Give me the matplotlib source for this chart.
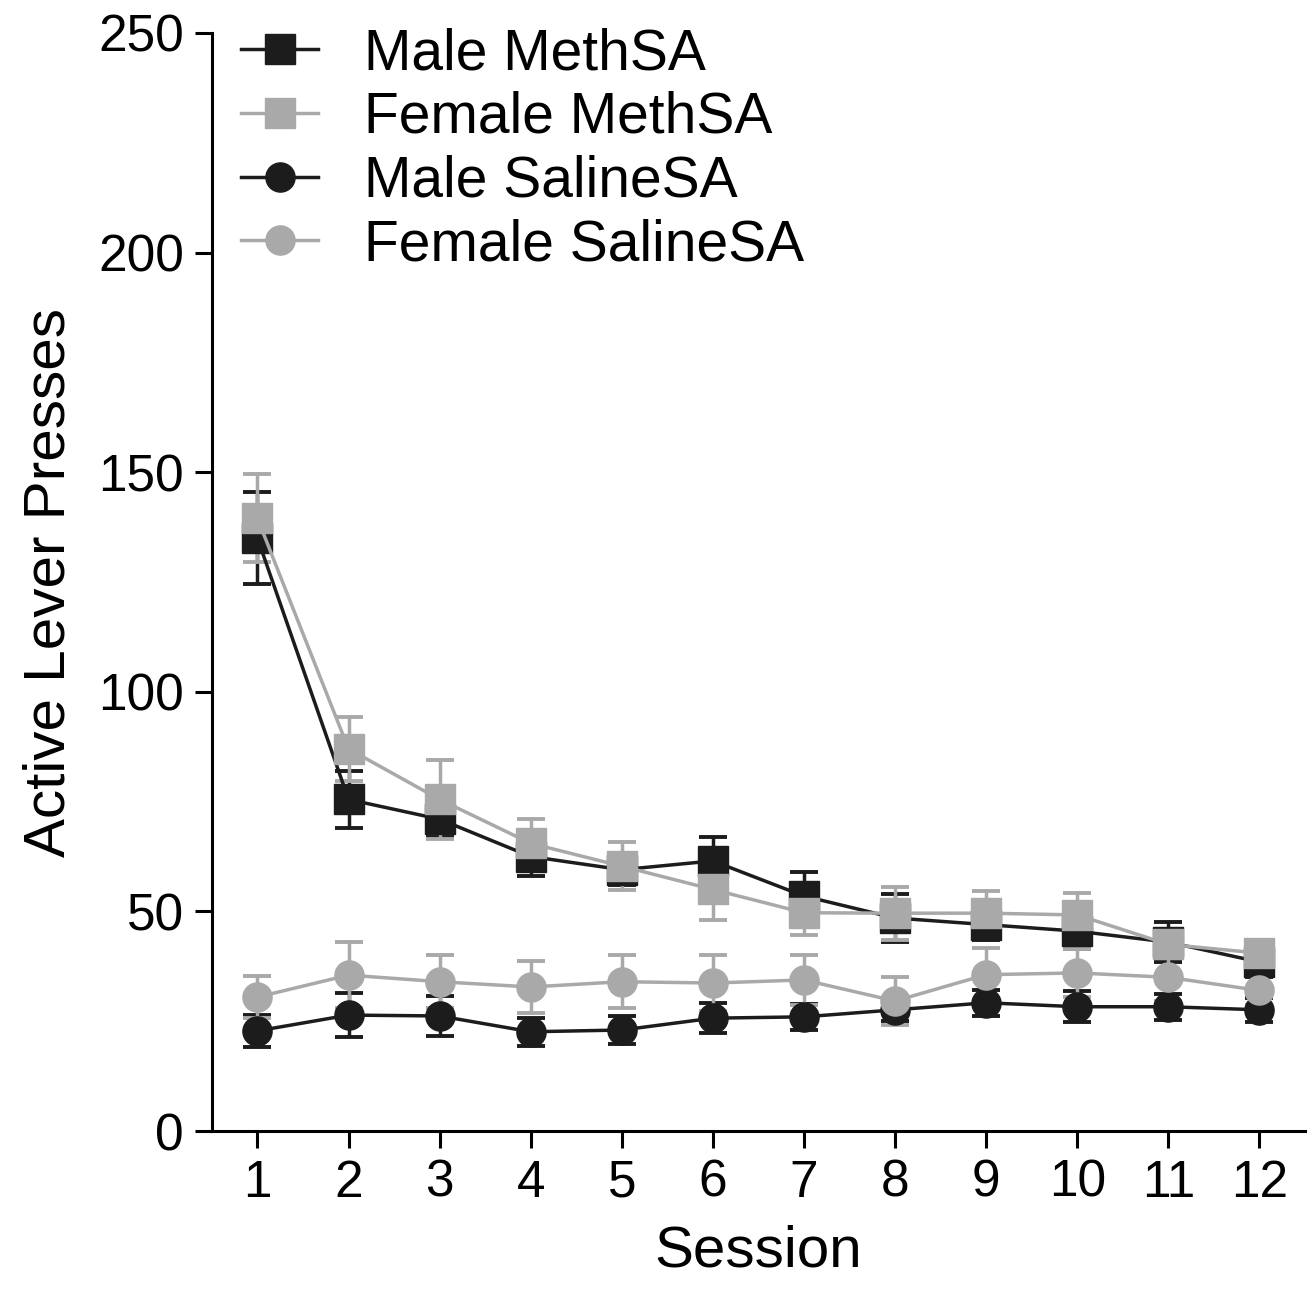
import matplotlib
matplotlib.use('Agg')
import matplotlib.pyplot as plt
import numpy as np

plt.rcParams['font.family'] = ['Liberation Sans', 'DejaVu Sans']

sessions = np.arange(1, 13)

male_meth = [135, 75.5, 71, 62.5, 59.5, 61.5, 53.5, 48.5, 47, 45.5, 43, 38.5]
male_meth_sem = [10.5, 6.5, 4, 4.5, 3.5, 5.5, 5.5, 5.5, 3.5, 4, 4.5, 3.5]
female_meth = [139.5, 87, 75.5, 65.5, 60.3, 55, 49.7, 49.6, 49.6, 49.2, 42.5, 40.5]
female_meth_sem = [10, 7.3, 9, 5.5, 5.5, 7, 5, 6, 5, 5, 3, 2.5]
male_sal = [22.8, 26.4, 26.2, 22.6, 23, 25.7, 26, 27.6, 29.2, 28.3, 28.3, 27.6]
male_sal_sem = [3.6, 5, 4.6, 3.2, 3.2, 3.4, 3, 2.5, 3, 3.5, 3, 2.8]
female_sal = [30.5, 35.5, 34, 32.8, 34, 33.7, 34.4, 29.6, 35.6, 36, 35, 32]
female_sal_sem = [4.8, 7.5, 6, 6, 6, 6.3, 5.6, 5.5, 6, 5.5, 5.5, 3.3]

BLACK = '#1c1c1c'
GRAY = '#a9a9a9'

fig = plt.figure(figsize=(13.16, 12.99), dpi=100)
ax = fig.add_axes([0.161, 0.1293, 0.8306, 0.8453])

series = [
    (male_meth, male_meth_sem, BLACK, 's', 'Male MethSA'),
    (female_meth, female_meth_sem, GRAY, 's', 'Female MethSA'),
    (male_sal, male_sal_sem, BLACK, 'o', 'Male SalineSA'),
    (female_sal, female_sal_sem, GRAY, 'o', 'Female SalineSA'),
]

handles = []
labels = []
for vals, sem, col, mk, lab in series:
    c = ax.errorbar(sessions, vals, yerr=sem, color=col, marker=mk, markersize=21,
                    linewidth=2.5, elinewidth=2.5, capsize=10, capthick=2.8)
    handles.append(c[0])
    labels.append(lab)

ax.set_xlim(0.5, 12.5)
ax.set_ylim(0, 250)
ax.set_xticks(sessions)
ax.set_yticks([0, 50, 100, 150, 200, 250])
ax.spines['top'].set_visible(False)
ax.spines['right'].set_visible(False)
ax.spines['left'].set_linewidth(2.2)
ax.spines['bottom'].set_linewidth(2.2)
ax.tick_params(axis='both', direction='out', length=12, width=2.2, labelsize=37, pad=8)
ax.set_xlabel('Session', fontsize=42, labelpad=12)
ax.set_ylabel('Active Lever Presses', fontsize=42, labelpad=16)

leg = ax.legend(handles, labels, loc='upper left', bbox_to_anchor=(-0.02, 1.052),
                frameon=False, fontsize=41, handlelength=1.35, handletextpad=0.8,
                labelspacing=0.17)

fig.savefig('out.png', dpi=100)
